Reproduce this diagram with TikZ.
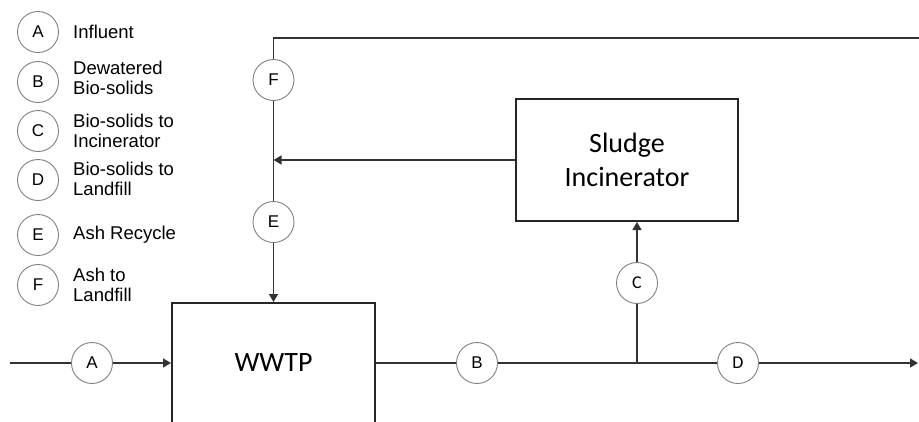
\documentclass[tikz,border=0pt]{standalone}
\usepackage{fontspec}
\setmainfont{Liberation Sans}
\newfontfamily\calfont{Carlito}
\usetikzlibrary{arrows.meta}
\definecolor{linecol}{gray}{0.2}
\definecolor{circcol}{gray}{0.5}
\definecolor{boxcol}{gray}{0.15}
\begin{document}
\begin{tikzpicture}[x=1pt,y=-1pt,
  flow/.style={draw=linecol, line width=1.5pt},
  arr/.style={-{Triangle[length=8pt,width=9pt]}},
  tag/.style={circle, draw=circcol, line width=0.9pt, fill=white, minimum size=41pt, inner sep=0pt, font=\fontsize{17}{20}\selectfont},
  ctag/.style={tag, font=\calfont\fontsize{18}{20}\selectfont},
  legtxt/.style={anchor=west, align=left, font=\fontsize{18.5}{20.5}\selectfont, inner sep=0pt},
  unit/.style={draw=boxcol, line width=2pt, rectangle, inner sep=0pt},
  bigtxt/.style={font=\calfont\fontsize{28}{34}\selectfont, align=center}]
\useasboundingbox (0,0) rectangle (919,421);
\clip (0,0) rectangle (919,421);
% legend
\node[tag] (la) at (38,32) {A};
\node[legtxt] (lta) at (73,32) {Influent};
\node[tag] (lb) at (38,82) {B};
\node[legtxt] (ltb) at (73,78) {Dewatered\\Bio-solids};
\node[tag] (lc) at (38,131) {C};
\node[legtxt] (ltc) at (73,131) {Bio-solids to\\Incinerator};
\node[tag] (ld) at (38,180) {D};
\node[legtxt] (ltd) at (73,179) {Bio-solids to\\Landfill};
\node[tag] (le) at (38,235) {E};
\node[legtxt] (lte) at (73,235) {Ash Recycle};
\node[tag] (lf) at (38,285) {F};
\node[legtxt] (ltf) at (73,285) {Ash to\\Landfill};
% units
\node[unit, minimum width=203pt, minimum height=200pt] (wwtp) at (273.5,403) {};
\node[bigtxt] (wwtptxt) at (273.5,363) {WWTP};
\node[unit, bigtxt, minimum width=222pt, minimum height=122pt] (inc) at (627,160) {Sludge\\Incinerator};
% stream tags
\node[tag] (A) at (92,363) {A};
\node[tag] (B) at (477,363) {B};
\node[ctag] (C) at (637,283) {C};
\node[ctag] (D) at (738,363) {D};
\node[tag] (E) at (273.5,222) {E};
\node[tag] (F) at (273.5,80) {F};
% coordinates
\coordinate (in) at (10,363);
\coordinate (out) at (918,363);
\coordinate (top) at (920,38);
\coordinate (tl) at (273.5,38);
\coordinate (ej) at (273.5,160);
\coordinate (jn) at (637,363);
% connectors
\draw[flow] (in) -- (A);
\draw[flow,arr] (A) -- (A -| wwtp.west);
\draw[flow] (wwtp.east |- B) -- (B);
\draw[flow] (B) -- (jn) -- (D);
\draw[flow,arr] (D) -- (out);
\draw[flow] (jn) -- (C);
\draw[flow,arr] (C) -- (C |- inc.south);
\draw[flow,arr] (inc.west) -- (ej);
\draw[flow] (top) -- (tl) -- (F);
\draw[flow] (F) -- (E);
\draw[flow,arr] (E) -- (wwtp.north);
\end{tikzpicture}
\end{document}
